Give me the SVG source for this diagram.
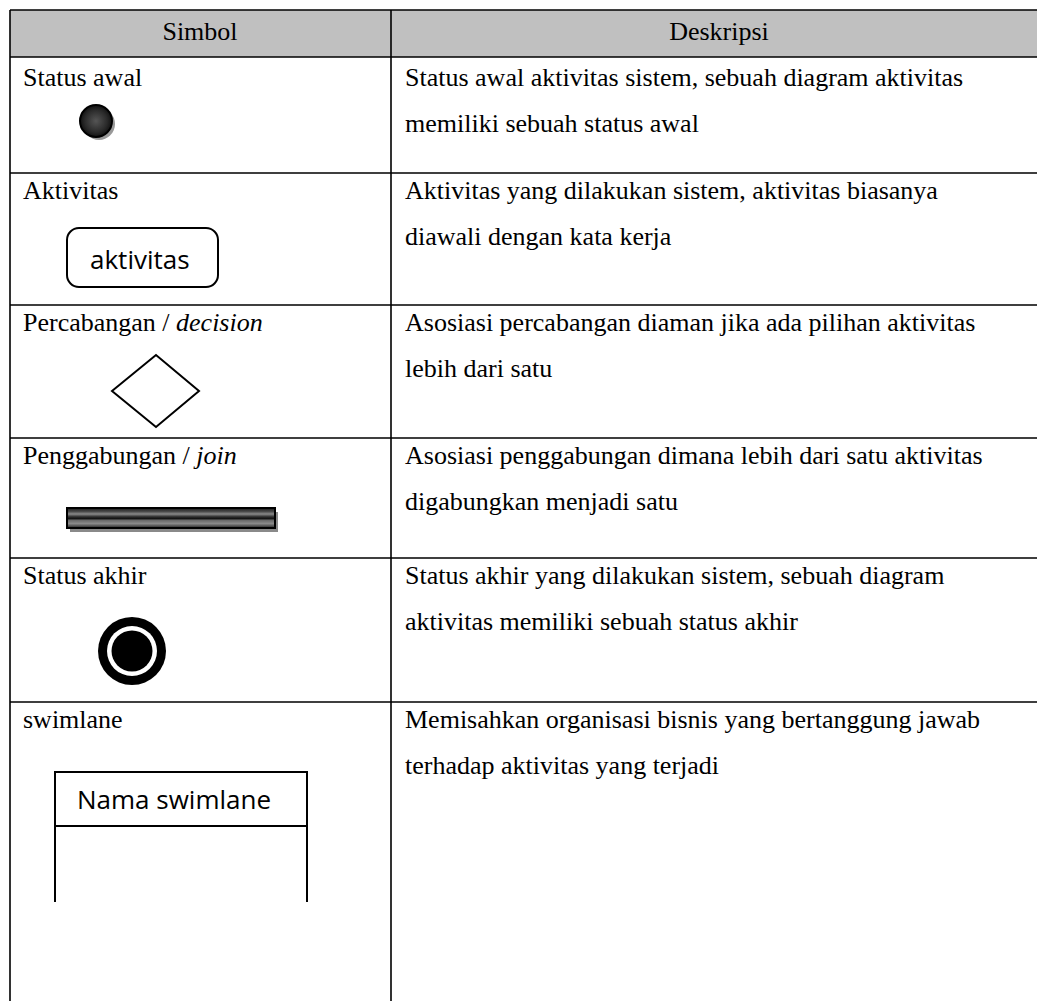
<svg xmlns="http://www.w3.org/2000/svg" width="1037" height="1001" viewBox="0 0 1037 1001">
<style>
.t{font-family:"Liberation Serif","Times New Roman",serif;font-size:26px;fill:#000}
.s{font-family:"Open Sans","Liberation Sans",sans-serif;font-size:26px;fill:#000}
.ln{stroke:#000;stroke-width:1.6;fill:none}
.sym{stroke:#000;stroke-width:2;fill:none}
</style>
<defs>
<radialGradient id="gInit" cx="0.5" cy="0.5" r="0.5">
<stop offset="0" stop-color="#555"/>
<stop offset="0.7" stop-color="#2a2a2a"/>
<stop offset="1" stop-color="#111"/>
</radialGradient>
<linearGradient id="gBar" x1="0" y1="0" x2="0" y2="1">
<stop offset="0" stop-color="#1a1a1a"/>
<stop offset="0.18" stop-color="#4a4a4a"/>
<stop offset="0.3" stop-color="#8a8a8a"/>
<stop offset="0.42" stop-color="#3a3a3a"/>
<stop offset="0.52" stop-color="#111"/>
<stop offset="0.62" stop-color="#6a6a6a"/>
<stop offset="0.78" stop-color="#8a8a8a"/>
<stop offset="1" stop-color="#222"/>
</linearGradient>
</defs>
<rect width="1037" height="1001" fill="#fff"/>
<g id="table">
<rect x="10" y="10" width="1040" height="47" fill="#c0c0c0"/>
<path class="ln" d="M10 10H1037M10 57H1037M10 173H1037M10 305H1037M10 438H1037M10 558H1037M10 702H1037M10 10V1001M391 10V1001"/>
<text class="t" x="200" y="40" text-anchor="middle">Simbol</text>
<text class="t" x="719" y="40" text-anchor="middle">Deskripsi</text>
</g>
<g id="row-status-awal">
<text class="t" x="23" y="86">Status awal</text>
<circle cx="99" cy="124" r="16" fill="#999"/>
<circle cx="96" cy="121" r="16" fill="url(#gInit)" stroke="#000" stroke-width="2"/>
<text class="t" x="405" y="86">Status awal aktivitas sistem, sebuah diagram aktivitas</text>
<text class="t" x="405" y="132">memiliki sebuah status awal</text>
</g>
<g id="row-aktivitas">
<text class="t" x="23" y="199">Aktivitas</text>
<rect class="sym" x="67" y="228" width="151" height="59" rx="12"/>
<text class="s" x="90" y="269">aktivitas</text>
<text class="t" x="405" y="199">Aktivitas yang dilakukan sistem, aktivitas biasanya</text>
<text class="t" x="405" y="245">diawali dengan kata kerja</text>
</g>
<g id="row-decision">
<text class="t" x="23" y="331">Percabangan / <tspan font-style="italic">decision</tspan></text>
<polygon class="sym" points="112,391 156,355 199,391 156,427"/>
<text class="t" x="405" y="331">Asosiasi percabangan diaman jika ada pilihan aktivitas</text>
<text class="t" x="405" y="377">lebih dari satu</text>
</g>
<g id="row-join">
<text class="t" x="23" y="464">Penggabungan / <tspan font-style="italic">join</tspan></text>
<rect x="70" y="512" width="208" height="20" fill="#8a8a8a"/>
<rect x="67" y="508" width="208" height="20" fill="url(#gBar)" stroke="#000" stroke-width="2"/>
<text class="t" x="405" y="464">Asosiasi penggabungan dimana lebih dari satu aktivitas</text>
<text class="t" x="405" y="510">digabungkan menjadi satu</text>
</g>
<g id="row-status-akhir">
<text class="t" x="23" y="584">Status akhir</text>
<circle cx="132" cy="651" r="34" fill="#000"/>
<circle cx="132" cy="651" r="25" fill="#fff"/>
<circle cx="132" cy="651" r="20.5" fill="#000"/>
<text class="t" x="405" y="584">Status akhir yang dilakukan sistem, sebuah diagram</text>
<text class="t" x="405" y="630">aktivitas memiliki sebuah status akhir</text>
</g>
<g id="row-swimlane">
<text class="t" x="23" y="728">swimlane</text>
<path class="sym" d="M55 902V772H307V902M55 826H307"/>
<text class="s" x="77" y="809">Nama swimlane</text>
<text class="t" x="405" y="728">Memisahkan organisasi bisnis yang bertanggung jawab</text>
<text class="t" x="405" y="774">terhadap aktivitas yang terjadi</text>
</g>
</svg>
